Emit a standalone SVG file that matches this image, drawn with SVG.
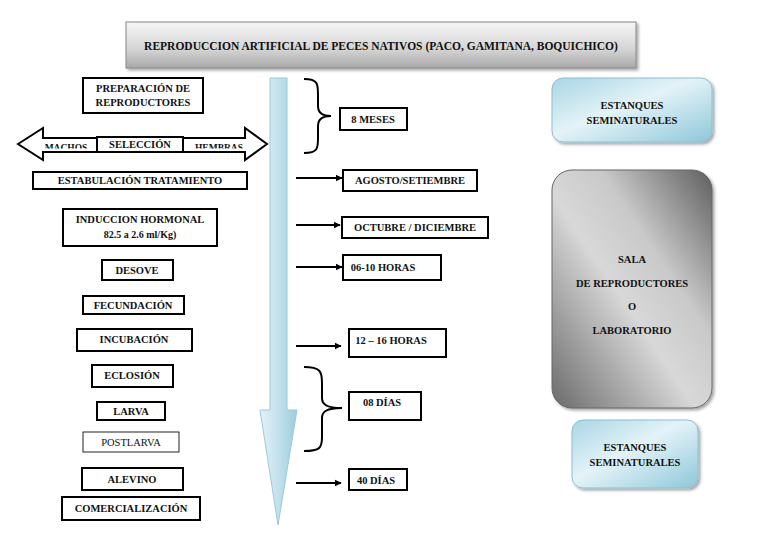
<svg xmlns="http://www.w3.org/2000/svg" width="768" height="543" viewBox="0 0 768 543">
<style>
text{font-family:"Liberation Serif","Times New Roman",serif;font-weight:bold;font-size:10.5px;fill:#111;text-anchor:middle}
.b{fill:#fff;stroke:#000;stroke-width:2}
.thin{fill:#fff;stroke:#222;stroke-width:1}
.c{fill:none;stroke:#000;stroke-width:1.8}
.br{fill:none;stroke:#000;stroke-width:2}
</style>
<defs>
<linearGradient id="gTitle" x1="0" y1="0" x2="0" y2="1"><stop offset="0" stop-color="#f6f6f6"/><stop offset="0.6" stop-color="#d4d4d4"/><stop offset="1" stop-color="#a8a8a8"/></linearGradient>
<linearGradient id="gShaft" x1="0" y1="0" x2="1" y2="0"><stop offset="0" stop-color="#e4f2f7"/><stop offset="0.5" stop-color="#c2e1ec"/><stop offset="1" stop-color="#9fcbdc"/></linearGradient>
<linearGradient id="gBlue" x1="0" y1="0" x2="1" y2="1"><stop offset="0" stop-color="#a9d6e4"/><stop offset="0.45" stop-color="#e4f3f8"/><stop offset="1" stop-color="#8ec7da"/></linearGradient>
<linearGradient id="gGray" x1="1" y1="0" x2="0" y2="1"><stop offset="0" stop-color="#5e5e5e"/><stop offset="0.35" stop-color="#c9c9c9"/><stop offset="0.55" stop-color="#d8d8d8"/><stop offset="1" stop-color="#6a6a6a"/></linearGradient>
<marker id="ah" viewBox="0 0 10 10" refX="9" refY="5" markerWidth="4" markerHeight="4" orient="auto"><path d="M0,0 L10,5 L0,10 z" fill="#000"/></marker>
<filter id="sh" x="-10%" y="-10%" width="130%" height="130%"><feDropShadow dx="2" dy="2" stdDeviation="1.5" flood-color="#000" flood-opacity="0.35"/></filter>
<clipPath id="clipMH"><rect x="0" y="139" width="300" height="9.5"/></clipPath>
</defs>

<g id="title">
<rect x="126" y="22" width="510" height="46" fill="url(#gTitle)" stroke="#888" stroke-width="1" filter="url(#sh)"/>
<text x="381" y="50" style="font-size:11.5px">REPRODUCCION ARTIFICIAL DE PECES NATIVOS (PACO, GAMITANA, BOQUICHICO)</text>
</g>

<g id="timeline-arrow">
<path d="M270,78 L287,78 L287,410 L297,410 L278,525 L260,410 L270,410 Z" fill="url(#gShaft)" stroke="#9cc8d8" stroke-width="1"/>
</g>

<g id="preparacion">
<rect class="b" x="83" y="78" width="120" height="35"/>
<text x="143" y="92">PREPARACIÓN DE</text>
<text x="143" y="106">REPRODUCTORES</text>
</g>

<g id="machos-hembras">
<path d="M18,144 L43,128 L43,138 L245,138 L245,128 L267,144 L245,160 L245,152 L43,152 L43,160 Z" fill="#fff" stroke="#000" stroke-width="2" stroke-linejoin="miter"/>
<g clip-path="url(#clipMH)">
<text x="66" y="151" style="font-size:9.5px">MACHOS</text>
<text x="219" y="151" style="font-size:9.5px">HEMBRAS</text>
</g>
</g>

<g id="seleccion">
<rect class="b" x="97" y="137" width="86" height="15"/>
<text x="140" y="148">SELECCIÓN</text>
</g>

<g id="estabulacion">
<rect class="b" x="33" y="172" width="214" height="17"/>
<text x="140" y="184">ESTABULACIÓN TRATAMIENTO</text>
</g>

<g id="induccion">
<rect class="b" x="63" y="209" width="154" height="37"/>
<text x="140" y="223">INDUCCION HORMONAL</text>
<text x="140" y="238" style="font-size:10px">82.5 a 2.6 ml/Kg)</text>
</g>

<g id="desove">
<rect class="b" x="102" y="260" width="71" height="20"/>
<text x="137" y="274">DESOVE</text>
</g>

<g id="fecundacion">
<rect class="b" x="83" y="296" width="101" height="18"/>
<text x="133" y="309">FECUNDACIÓN</text>
</g>

<g id="incubacion">
<rect class="b" x="77" y="329" width="115" height="22"/>
<text x="134" y="343">INCUBACIÓN</text>
</g>

<g id="eclosion">
<rect class="b" x="92" y="365" width="81" height="22"/>
<text x="132" y="379">ECLOSIÓN</text>
</g>

<g id="larva">
<rect class="b" x="97" y="402" width="68" height="18"/>
<text x="131" y="415">LARVA</text>
</g>

<g id="postlarva">
<rect class="thin" x="83" y="432" width="96" height="20"/>
<text x="131" y="446" style="font-weight:normal">POSTLARVA</text>
</g>

<g id="alevino">
<rect class="b" x="82" y="468" width="101" height="22"/>
<text x="132" y="483">ALEVINO</text>
</g>

<g id="comercializacion">
<rect class="b" x="62" y="497" width="138" height="23"/>
<text x="131" y="512">COMERCIALIZACIÓN</text>
</g>

<g id="brace-8meses">
<path class="br" d="M304,79 C318,79 318,84 318,95 L318,106 C318,112 322,116 331,116 C322,116 318,120 318,126 L318,138 C318,148 318,153 304,153"/>
</g>

<g id="ocho-meses">
<rect class="b" x="340" y="108" width="67" height="22"/>
<text x="373" y="123">8 MESES</text>
</g>

<g id="agosto">
<rect class="b" x="343" y="170" width="134" height="21"/>
<text x="410" y="184">AGOSTO/SETIEMBRE</text>
</g>

<g id="octubre">
<rect class="b" x="342" y="217" width="146" height="21"/>
<text x="415" y="231">OCTUBRE / DICIEMBRE</text>
</g>

<g id="horas-06-10">
<rect class="b" x="343" y="255" width="98" height="25"/>
<text x="383" y="271">06-10 HORAS</text>
</g>

<g id="horas-12-16">
<rect class="b" x="349" y="329" width="97" height="28"/>
<text x="391" y="344">12 – 16 HORAS</text>
</g>

<g id="brace-08dias">
<path class="br" d="M304,367 C320,367 322,371 322,383 L322,398 C322,404 326,408 342,408 C326,408 322,412 322,418 L322,437 C322,448 320,451 304,451"/>
</g>

<g id="ocho-dias">
<rect class="b" x="349" y="392" width="72" height="28"/>
<text x="382" y="406">08 DÍAS</text>
</g>

<g id="cuarenta-dias">
<rect class="b" x="349" y="469" width="58" height="21"/>
<text x="376" y="484">40 DÍAS</text>
</g>

<g id="connectors">
<line class="c" x1="296" y1="178" x2="342" y2="178" marker-end="url(#ah)"/>
<line class="c" x1="296" y1="225" x2="340" y2="225" marker-end="url(#ah)"/>
<line class="c" x1="296" y1="267" x2="342" y2="267" marker-end="url(#ah)"/>
<line class="c" x1="296" y1="346" x2="341" y2="346" marker-end="url(#ah)"/>
<line class="c" x1="296" y1="483" x2="341" y2="483" marker-end="url(#ah)"/>
</g>

<g id="estanques-top">
<rect x="552" y="78" width="160" height="64" rx="11" fill="url(#gBlue)" stroke="#8bbfd0" stroke-width="1" filter="url(#sh)"/>
<text x="632" y="109">ESTANQUES</text>
<text x="632" y="124">SEMINATURALES</text>
</g>

<g id="sala">
<rect x="552" y="170" width="160" height="238" rx="20" fill="url(#gGray)" stroke="#666" stroke-width="1" filter="url(#sh)"/>
<text x="632" y="263">SALA</text>
<text x="632" y="287">DE REPRODUCTORES</text>
<text x="632" y="310">O</text>
<text x="632" y="334">LABORATORIO</text>
</g>

<g id="estanques-bottom">
<rect x="572" y="420" width="126" height="68" rx="11" fill="url(#gBlue)" stroke="#8bbfd0" stroke-width="1" filter="url(#sh)"/>
<text x="635" y="451">ESTANQUES</text>
<text x="635" y="466">SEMINATURALES</text>
</g>
</svg>
